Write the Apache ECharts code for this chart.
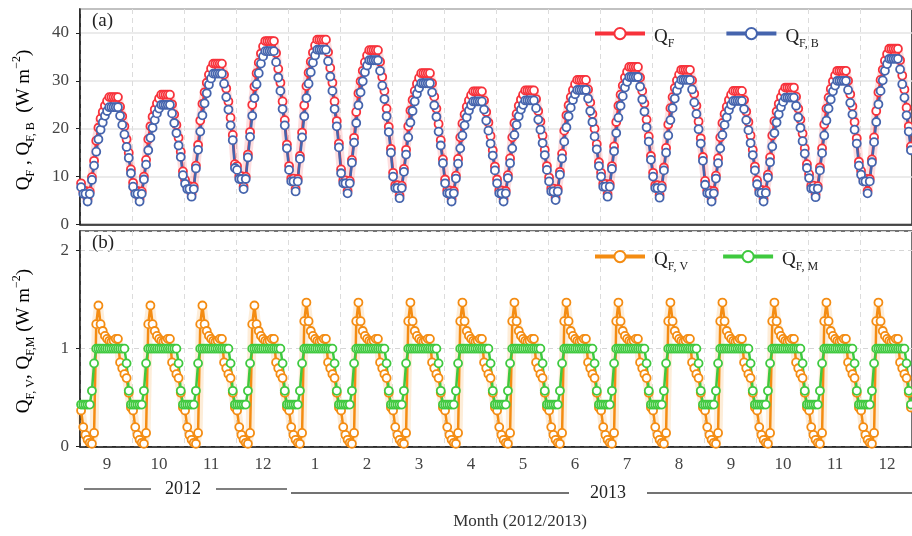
<!DOCTYPE html>
<html lang="en">
<head>
<meta charset="UTF-8">
<title>QF, QF,B, QF,V, QF,M mean diurnal cycles per month (2012/2013)</title>
<script src="https://cdn.jsdelivr.net/npm/echarts@6/dist/echarts.min.js"></script>
<style>html,body{margin:0;padding:0;background:#fff;}</style>
</head>
<body>
<div id="main" style="width:912px;height:536px;"></div>

<script type="text/javascript">
// months shown on the x axis, 24 hourly values each
var months = ['9', '10', '11', '12', '1', '2', '3', '4', '5', '6', '7', '8', '9', '10', '11', '12'];
var monthYear = [2012, 2012, 2012, 2012, 2013, 2013, 2013, 2013, 2013, 2013, 2013, 2013, 2013, 2013, 2013, 2013];

// QF (total), hour 0..23, one row per month
var qfMonth = [
    [8.6,7.0,7.0,5.3,6.9,9.9,13.3,17.5,20.2,22.1,23.5,24.8,25.8,26.6,26.6,26.6,26.6,26.6,24.6,22.6,20.5,17.8,15.0,11.5], // 9/2012
    [8.7,7.0,7.0,5.3,6.9,10.0,13.5,17.8,20.5,22.5,24.0,25.3,26.3,27.1,27.1,27.1,27.1,27.1,25.1,23.0,20.8,18.1,15.2,11.1], // 10
    [9.3,8.0,8.0,6.3,7.9,12.3,16.6,21.7,25.2,27.6,29.6,31.3,32.6,33.6,33.6,33.6,33.6,33.6,31.3,28.4,25.7,22.3,18.7,12.6], // 11
    [12.2,10.1,10.1,7.9,10.0,14.6,19.3,25.0,28.8,31.6,33.8,35.7,37.2,38.3,38.3,38.3,38.3,38.3,35.8,32.5,29.6,25.7,21.8,16.7], // 12
    [12.2,9.6,9.6,7.4,9.5,14.3,19.2,24.9,28.9,31.7,34.0,35.9,37.4,38.6,38.6,38.6,38.6,38.6,36.0,32.7,29.6,25.7,21.6,16.9], // 1/2013
    [11.5,9.2,9.2,7.0,9.1,13.5,18.1,23.5,27.4,29.9,32.1,33.9,35.3,36.4,36.4,36.4,36.4,36.4,34.0,30.8,27.9,24.2,20.4,15.8], // 2
    [10.8,8.2,8.2,6.0,8.1,11.6,15.6,20.5,23.8,26.0,27.9,29.4,30.6,31.6,31.6,31.6,31.6,31.6,29.5,26.7,24.2,21.0,17.6,13.6], // 3
    [9.4,7.1,7.1,5.3,7.0,10.2,13.7,18.2,21.1,23.0,24.6,25.9,27.0,27.8,27.8,27.8,27.8,27.8,25.9,23.5,21.3,18.5,15.5,12.1], // 4
    [9.4,7.1,7.1,5.3,7.0,10.3,13.8,18.2,21.2,23.1,24.8,26.1,27.1,28.0,28.0,28.0,28.0,28.0,26.2,23.7,21.5,18.6,15.6,12.2], // 5
    [9.8,7.5,7.5,5.6,7.4,11.0,14.8,19.6,22.8,24.9,26.6,28.1,29.3,30.2,30.2,30.2,30.2,30.2,28.2,25.5,23.1,20.0,16.8,13.0], // 6
    [10.8,8.5,8.5,6.3,8.4,12.2,16.3,21.4,24.8,27.1,29.0,30.7,31.9,32.9,32.9,32.9,32.9,32.9,30.7,27.9,25.3,21.9,18.4,14.3], // 7
    [10.8,8.2,8.2,6.1,8.1,11.9,16.0,20.9,24.3,26.6,28.5,30.1,31.3,32.3,32.3,32.3,32.3,32.3,30.1,27.3,24.8,21.5,18.0,14.1], // 8
    [9.1,7.1,7.1,5.3,7.0,10.2,13.8,18.2,21.2,23.1,24.6,26.0,27.1,27.9,27.9,27.9,27.9,27.9,26.0,23.6,21.4,18.6,15.6,12.1], // 9
    [9.2,7.2,7.2,5.3,7.1,10.4,14.0,18.6,21.6,23.6,25.2,26.6,27.7,28.6,28.6,28.6,28.6,28.6,26.7,24.2,21.9,19.0,15.9,12.6], // 10
    [10.5,8.1,8.1,6.2,8.0,11.9,15.9,20.9,24.2,26.5,28.3,29.9,31.1,32.1,32.1,32.1,32.1,32.1,30.0,27.2,24.7,21.4,18.0,13.1], // 11
    [11.2,9.6,9.6,7.0,9.5,13.6,18.2,23.7,27.6,30.2,32.3,34.2,35.6,36.7,36.7,36.7,36.7,36.7,34.3,31.1,28.2,24.4,20.5,16.3]  // 12
];

// QF,B (buildings)
var qfbMonth = [
    [7.8,6.4,6.4,4.8,6.4,9.3,12.3,15.2,17.8,19.8,21.3,22.7,23.7,24.5,24.5,24.5,24.5,24.5,22.7,20.8,18.8,16.2,13.9,10.7],
    [7.9,6.4,6.4,4.8,6.4,9.4,12.5,15.5,18.1,20.2,21.8,23.2,24.2,25.0,25.0,25.0,25.0,25.0,23.2,21.2,19.1,16.5,14.1,10.3],
    [8.5,7.4,7.4,5.8,7.4,11.7,15.6,19.4,22.8,25.3,27.4,29.2,30.5,31.5,31.5,31.5,31.5,31.5,29.4,26.6,24.0,20.7,17.6,11.8],
    [11.4,9.5,9.5,7.4,9.5,14.0,18.3,22.7,26.4,29.3,31.6,33.6,35.1,36.2,36.2,36.2,36.2,36.2,33.9,30.7,27.9,24.1,20.7,15.9],
    [11.4,9.0,9.0,6.9,9.0,13.7,18.2,22.6,26.4,29.4,31.8,33.8,35.3,36.5,36.5,36.5,36.5,36.5,34.1,30.9,27.9,24.1,20.5,16.1],
    [10.7,8.6,8.6,6.5,8.6,12.9,17.1,21.2,24.9,27.6,29.9,31.8,33.2,34.3,34.3,34.3,34.3,34.3,32.1,29.0,26.2,22.6,19.3,15.0],
    [10.0,7.6,7.6,5.5,7.6,11.0,14.6,18.2,21.3,23.7,25.7,27.3,28.5,29.5,29.5,29.5,29.5,29.5,27.6,24.9,22.5,19.4,16.5,12.8],
    [8.6,6.5,6.5,4.8,6.5,9.6,12.7,15.9,18.6,20.7,22.4,23.8,24.9,25.7,25.7,25.7,25.7,25.7,24.0,21.7,19.6,16.9,14.4,11.3],
    [8.6,6.5,6.5,4.8,6.5,9.7,12.8,15.9,18.7,20.8,22.6,24.0,25.0,25.9,25.9,25.9,25.9,25.9,24.3,21.9,19.8,17.0,14.5,11.4],
    [9.0,6.9,6.9,5.1,6.9,10.4,13.8,17.3,20.3,22.6,24.4,26.0,27.2,28.1,28.1,28.1,28.1,28.1,26.3,23.7,21.4,18.4,15.7,12.2],
    [10.0,7.9,7.9,5.8,7.9,11.6,15.3,19.1,22.3,24.8,26.8,28.6,29.8,30.8,30.8,30.8,30.8,30.8,28.8,26.1,23.6,20.3,17.3,13.5],
    [10.0,7.6,7.6,5.6,7.6,11.3,15.0,18.6,21.8,24.3,26.3,28.0,29.2,30.2,30.2,30.2,30.2,30.2,28.2,25.5,23.1,19.9,16.9,13.3],
    [8.3,6.5,6.5,4.8,6.5,9.6,12.8,15.9,18.7,20.8,22.4,23.9,25.0,25.8,25.8,25.8,25.8,25.8,24.1,21.8,19.7,17.0,14.5,11.3],
    [8.4,6.6,6.6,4.8,6.6,9.8,13.0,16.3,19.1,21.3,23.0,24.5,25.6,26.5,26.5,26.5,26.5,26.5,24.8,22.4,20.2,17.4,14.8,11.8],
    [9.7,7.5,7.5,5.7,7.5,11.3,14.9,18.6,21.7,24.2,26.1,27.8,29.0,30.0,30.0,30.0,30.0,30.0,28.1,25.4,23.0,19.8,16.9,12.3],
    [10.4,9.0,9.0,6.5,9.0,13.0,17.2,21.4,25.1,27.9,30.1,32.1,33.5,34.6,34.6,34.6,34.6,34.6,32.4,29.3,26.5,22.8,19.4,15.5]
];

// QF,V (vehicles) and QF,M (metabolism): the same day in every month of a year
var qfvDay2012 = [0.37,0.20,0.12,0.07,0.04,0.03,0.14,1.25,1.44,1.25,1.18,1.13,1.10,1.08,1.07,1.08,1.10,1.10,0.86,0.80,0.74,0.70,0.55,0.40];
var qfvDay2013 = [0.37,0.20,0.12,0.07,0.04,0.03,0.14,1.28,1.47,1.28,1.18,1.13,1.10,1.08,1.07,1.08,1.10,1.10,0.86,0.80,0.74,0.70,0.55,0.40];
var qfmDay = [0.43,0.43,0.43,0.43,0.43,0.57,0.85,1,1,1,1,1,1,1,1,1,1,1,1,1,1,0.85,0.57,0.43];

var legendLabels = {
    'QF': '{q|Q}{s|F}',
    'QF,B': '{q|Q}{s|F, B}',
    'QF,V': '{q|Q}{s|F, V}',
    'QF,M': '{q|Q}{s|F, M}'
};

var cats = [], qf = [], qfb = [], qfv = [], qfm = [];
months.forEach(function (m, k) {
    var vDay = monthYear[k] === 2012 ? qfvDay2012 : qfvDay2013;
    for (var h = 0; h < 24; h++) {
        cats.push(m);
        qf.push(qfMonth[k][h]);
        qfb.push(qfbMonth[k][h]);
        qfv.push(vDay[h]);
        qfm.push(qfmDay[h]);
    }
});

var serif = "'Liberation Serif', 'Times New Roman', serif";
var red = '#f7323b', blue = '#4564ad', orange = '#f48c12', green = '#3fc93f';

var rich = {
    q: {fontFamily: serif, fontSize: 19, color: '#222', lineHeight: 26},
    s: {fontFamily: serif, fontSize: 12, color: '#222', lineHeight: 26, verticalAlign: 'bottom'},
    p: {fontFamily: serif, fontSize: 12, color: '#222', lineHeight: 26, verticalAlign: 'top'}
};

function monthStart(i) { return i % 24 === 0; }
function monthMid(i) { return i % 24 === 12; }

var myChart = echarts.init(document.getElementById('main'));

function xAxisFor(grid, showLabel) {
    return {
        gridIndex: grid,
        type: 'category',
        data: cats,
        boundaryGap: true,
        axisLine: {lineStyle: {color: '#222', width: 1.5}},
        axisTick: {interval: monthStart, length: 5, lineStyle: {color: '#222', width: 1.5}},
        axisLabel: {show: showLabel, interval: monthMid, fontFamily: serif, fontSize: 17, color: '#444', margin: 9},
        splitLine: {show: true, interval: monthStart, lineStyle: {type: [5, 4], color: '#dcdcdc', width: 1}}
    };
}

function pointSeries(name, data, color, xi) {
    return {
        name: name, type: 'line', xAxisIndex: xi, yAxisIndex: xi, data: data,
        symbol: 'circle', symbolSize: 8, showAllSymbol: true, z: 3,
        lineStyle: {color: color, width: 2.5},
        itemStyle: {color: '#fff', borderColor: color, borderWidth: 1.8}
    };
}

function haloSeries(data, color, xi) {
    return {
        name: 'halo', type: 'line', xAxisIndex: xi, yAxisIndex: xi, data: data,
        symbol: 'none', silent: true, z: 1,
        lineStyle: {color: color, width: 9}
    };
}

function legendFor(names, top, gap) {
    return {
        data: names, left: 588, top: top,
        itemWidth: 50, itemHeight: 14, itemGap: gap,
        orient: 'horizontal',
        formatter: function (name) { return legendLabels[name]; },
        textStyle: {rich: rich, padding: [6, 0, 0, 4]},
        lineStyle: {width: 4}
    };
}

var option = {
    animation: false,
    backgroundColor: '#fff',
    grid: [
        {left: 80, top: 9, width: 842, height: 215.5, show: true, borderColor: '#222', borderWidth: 1.5},
        {left: 80, top: 231, width: 842, height: 215.7, show: true, borderColor: '#444', borderWidth: 1.5}
    ],
    legend: [
        legendFor(['QF', 'QF,B'], 22, 50),
        legendFor(['QF,V', 'QF,M'], 245, 33)
    ],
    xAxis: [xAxisFor(0, false), xAxisFor(1, true)],
    yAxis: [
        {
            gridIndex: 0, type: 'value', min: 0, max: 45, interval: 10,
            axisLine: {show: true, lineStyle: {color: '#222', width: 1.5}},
            axisTick: {show: true, length: 4, lineStyle: {color: '#222'}},
            axisLabel: {showMaxLabel: false, fontFamily: serif, fontSize: 17, color: '#444', margin: 11},
            splitLine: {lineStyle: {color: '#e4e4e4', width: 1.5}}
        },
        {
            gridIndex: 1, type: 'value', min: 0, max: 2.2, interval: 1,
            axisLine: {show: true, lineStyle: {color: '#222', width: 1.5}},
            axisTick: {show: true, length: 4, lineStyle: {color: '#222'}},
            axisLabel: {showMaxLabel: false, fontFamily: serif, fontSize: 17, color: '#444', margin: 11},
            splitLine: {lineStyle: {type: [5, 4], color: '#d6d6d6', width: 1}}
        }
    ],
    graphic: [
        {type: 'text', x: 92, y: 12, style: {text: '(a)', font: '19px ' + serif, fill: '#222'}},
        {type: 'text', x: 92, y: 234, style: {text: '(b)', font: '19px ' + serif, fill: '#222'}},
        {type: 'text', x: 24, y: 120, rotation: Math.PI / 2,
            style: {text: '{q|Q}{s|F}{q| , Q}{s|F, B}{q|  (W m}{p|−2}{q|)}', rich: rich, align: 'center', verticalAlign: 'middle'}},
        {type: 'text', x: 24, y: 341, rotation: Math.PI / 2,
            style: {text: '{q|Q}{s|F, V}{q|, Q}{s|F,M}{q| (W m}{p|−2}{q|)}', rich: rich, align: 'center', verticalAlign: 'middle'}},
        {type: 'line', shape: {x1: 84, y1: 489, x2: 151, y2: 489}, style: {stroke: '#555', lineWidth: 1.5}},
        {type: 'line', shape: {x1: 216, y1: 489, x2: 287, y2: 489}, style: {stroke: '#555', lineWidth: 1.5}},
        {type: 'text', x: 183, y: 489, style: {text: '2012', font: '18px ' + serif, fill: '#222', align: 'center', verticalAlign: 'middle'}},
        {type: 'line', shape: {x1: 291, y1: 493, x2: 569, y2: 493}, style: {stroke: '#444', lineWidth: 1.5}},
        {type: 'line', shape: {x1: 647, y1: 493, x2: 912, y2: 493}, style: {stroke: '#444', lineWidth: 1.5}},
        {type: 'text', x: 608, y: 493, style: {text: '2013', font: '18px ' + serif, fill: '#222', align: 'center', verticalAlign: 'middle'}},
        {type: 'text', x: 520, y: 522, style: {text: 'Month (2012/2013)', font: '17px ' + serif, fill: '#333', align: 'center', verticalAlign: 'middle'}}
    ],
    series: [
        haloSeries(qf, 'rgba(247,50,59,0.16)', 0),
        haloSeries(qfv, 'rgba(244,140,18,0.16)', 1),
        pointSeries('QF', qf, red, 0),
        pointSeries('QF,B', qfb, blue, 0),
        pointSeries('QF,V', qfv, orange, 1),
        pointSeries('QF,M', qfm, green, 1)
    ]
};

myChart.setOption(option);
</script>
</body>
</html>
